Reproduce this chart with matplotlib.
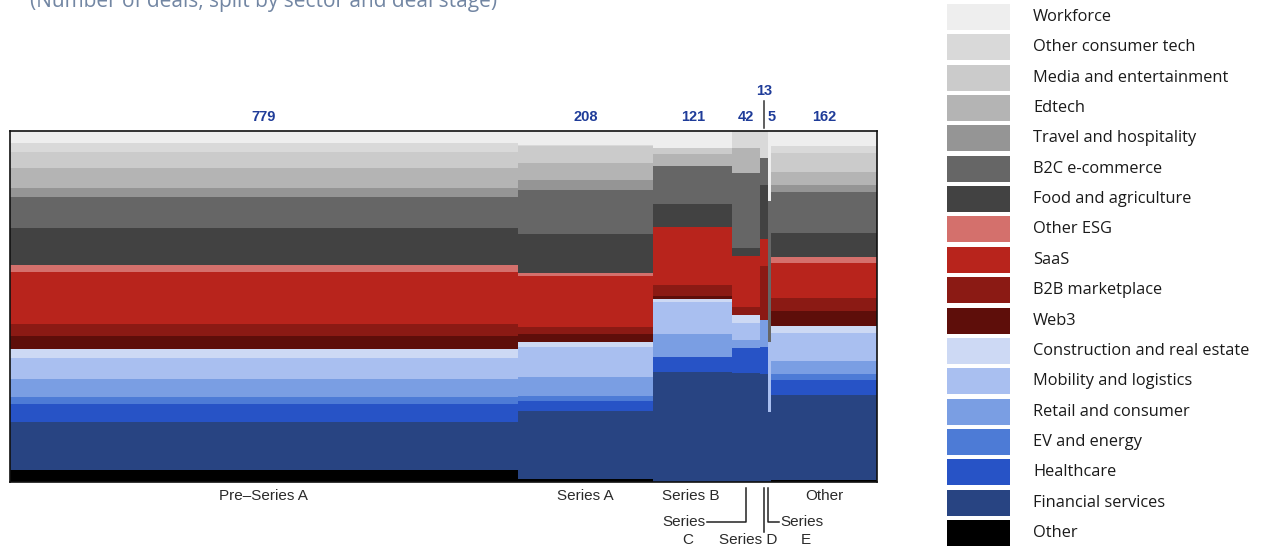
import matplotlib.pyplot as plt
from matplotlib.patches import Rectangle
import numpy as np

# sectors, top of stack first (legend order)
sectors = [
    "Workforce", "Other consumer tech", "Media and entertainment", "Edtech",
    "Travel and hospitality", "B2C e-commerce", "Food and agriculture",
    "Other ESG", "SaaS", "B2B marketplace", "Web3",
    "Construction and real estate", "Mobility and logistics",
    "Retail and consumer", "EV and energy", "Healthcare",
    "Financial services", "Other",
]
colors = [
    "#eeeeee", "#d9d9d9", "#cbcbcb", "#b4b4b4", "#959595", "#666666", "#424242",
    "#d4706c", "#b8241c", "#8b1a14", "#5e0e0a",
    "#cdd9f4", "#a9bff0", "#7a9ee3", "#4d7bd6", "#2753c6", "#284482", "#000000",
]

stages = ["Pre\u2013Series A", "Series A", "Series B", "Series C", "Series D", "Series E", "Other"]

# deal counts per sector (same order as sectors)
pre_series_a = [26, 20, 36, 44, 20, 69, 83, 15, 115, 28, 27, 20, 48, 40, 15, 39, 107, 27]
series_a = [8, 1, 10, 10, 6, 26, 23, 2, 30, 4, 5, 3, 18, 11, 3, 6, 40, 2]
series_b = [6, 0, 2, 4, 0, 13, 8, 0, 20, 4, 1, 1, 11, 8, 0, 5, 38, 0]
series_c = [0, 2, 0, 3, 0, 9, 1, 0, 6, 1, 0, 1, 2, 1, 0, 3, 13, 0]
series_d = [0, 1, 0, 0, 0, 1, 2, 0, 1, 2, 0, 0, 0, 1, 0, 1, 4, 0]
series_e = [1, 0, 0, 0, 0, 2, 0, 0, 0, 0, 0, 0, 1, 0, 0, 0, 1, 0]
other_stage = [7, 3, 9, 6, 3, 19, 11, 3, 16, 6, 7, 3, 13, 6, 3, 7, 39, 1]

counts = np.array([pre_series_a, series_a, series_b, series_c, series_d, series_e, other_stage], float)
totals = counts.sum(axis=1)
lefts = np.concatenate([[0], np.cumsum(totals)[:-1]])
centers = lefts + totals / 2
grand = totals.sum()

W, H = 1274, 550
fig = plt.figure(figsize=(W / 100, H / 100), dpi=100)
ax = fig.add_axes([10 / W, 1 - 482 / H, 867 / W, 351 / H])

shares = counts / totals[:, None] * 100
bottom = np.zeros(len(stages))
for i in range(len(sectors) - 1, -1, -1):
    ax.bar(lefts, shares[:, i], width=totals, bottom=bottom, align="edge",
           color=colors[i], linewidth=0)
    bottom += shares[:, i]

ax.set_xlim(0, grand)
ax.set_ylim(0, 100)
ax.set_xticks([])
ax.set_yticks([])
for sp in ax.spines.values():
    sp.set_linewidth(1.2)
    sp.set_color("#111111")

px = grand / 867  # data units per pixel along x
tx = ax.get_xaxis_transform()
blue = "#1f3c99"
lab = dict(color=blue, fontsize=10.5, fontweight="bold", family="Liberation Sans",
           ha="center", va="center", transform=tx, clip_on=False)

# totals above columns
for k, t in enumerate(totals):
    if stages[k] == "Series D":
        ax.text(centers[k], 1.113, f"{int(t)}", **lab)
        ax.plot([centers[k], centers[k]], [1.0085, 1.0855], color="#333333", lw=1.1,
                transform=tx, clip_on=False)
    elif stages[k] == "Series E":
        ax.text(centers[k] + 1.5 * px, 1.04, f"{int(t)}", **lab)
    else:
        ax.text(centers[k], 1.04, f"{int(t)}", **lab)

# stage labels below
bl = dict(color="#2a2a2a", fontsize=11, family="Liberation Sans",
          va="center", transform=tx, clip_on=False)
for k in [0, 1, 2, 6]:
    ax.text(centers[k] - (2 * px if k == 2 else 0), -0.04, stages[k], ha="center", **bl)

lk = dict(color="#222222", lw=1.1, transform=tx, clip_on=False)
# Series C
xc = centers[3]
ax.plot([xc, xc, xc - 39 * px], [-0.017, -0.113, -0.113], **lk)
ax.text(xc - 40 * px, -0.113, "Series", ha="right", **bl)
ax.text(xc - 58 * px, -0.165, "C", ha="center", **bl)
# Series D
xd = centers[4]
ax.plot([xd, xd], [-0.017, -0.1416], **lk)
ax.text(xd - 16 * px, -0.165, "Series D", ha="center", **bl)
# Series E
xe = centers[5] - 1.5 * px
ax.plot([xe, xe, xe + 11 * px], [-0.017, -0.113, -0.113], **lk)
ax.text(xe + 12 * px, -0.113, "Series", ha="left", **bl)
ax.text(xe + 38 * px, -0.165, "E", ha="center", **bl)

# subtitle (cut at the top edge, as in the source image)
fig.text(30 / W, 1 - 7 / H, "(Number of deals, split by sector and deal stage)",
         color="#7286a3", fontsize=15, family="Open Sans", ha="left", va="baseline")

# legend
lax = fig.add_axes([0, 0, 1, 1], facecolor="none")
lax.set_xlim(0, W)
lax.set_ylim(H, 0)
lax.axis("off")
step = (533 - 17) / 17
for i, (name, c) in enumerate(zip(sectors, colors)):
    yc = 17 + i * step
    lax.add_patch(Rectangle((947, yc - 13), 63, 26, color=c, lw=0))
    lax.text(1033, yc, name, fontsize=11.8, family="Open Sans", color="#1a1a1a",
             va="center", ha="left")

fig.savefig("out.png", dpi=100)
